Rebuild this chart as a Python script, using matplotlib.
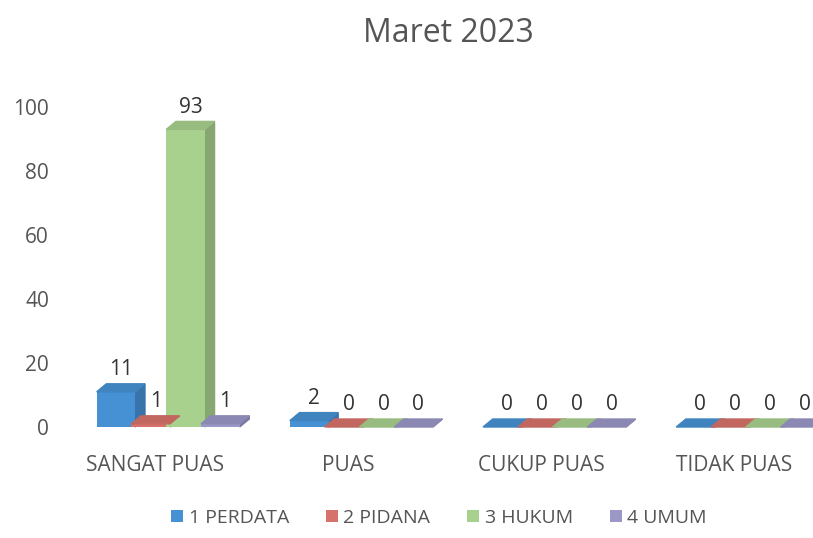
import matplotlib.pyplot as plt
from matplotlib.patches import Polygon, Patch
import matplotlib.colors as mcolors

categories = ['SANGAT PUAS', 'PUAS', 'CUKUP PUAS', 'TIDAK PUAS']
series_names = ['1 PERDATA', '2 PIDANA', '3 HUKUM', '4 UMUM']
perdata = [11, 2, 0, 0]
pidana = [1, 0, 0, 0]
hukum = [93, 0, 0, 0]
umum = [1, 0, 0, 0]
yticks = [0, 20, 40, 60, 80, 100]

series = [perdata, pidana, hukum, umum]
colors = ['#4691d4', '#d6726b', '#a9d18e', '#9b98c8']
offsets = [-0.2, -0.02, 0.16, 0.34]
width = 0.2
dx, dy = 0.05, 2.5

plt.rcParams['font.family'] = ['Open Sans', 'DejaVu Sans']

fig = plt.figure(figsize=(8.13, 5.38), dpi=100)
ax = fig.add_axes([0.0738, 0.2063, 0.910, 0.5948])


def shade(c, f):
    r, g, b = mcolors.to_rgb(c)
    return (r * f, g * f, b * f)


for vals, col, off in zip(series, colors, offsets):
    xs = [i + off for i in range(len(categories))]
    ax.bar(xs, vals, width=width, color=col, edgecolor='none', zorder=3)
    for x, v in zip(xs, vals):
        x0 = x - width / 2
        top = [(x0, v), (x0 + dx, v + dy), (x0 + width + dx, v + dy), (x0 + width, v)]
        side = [(x0 + width, 0), (x0 + width + dx, dy), (x0 + width + dx, v + dy), (x0 + width, v)]
        ax.add_patch(Polygon(side, closed=True, color=shade(col, 0.8), zorder=2, clip_on=False))
        ax.add_patch(Polygon(top, closed=True, color=shade(col, 0.9), zorder=4, clip_on=False))
        ax.text(x + dx / 2, v + dy + 1.2, str(v), ha='center', va='bottom',
                fontsize=15, color='#333333', zorder=5)

ax.set_xlim(-0.49, 3.34)
ax.set_ylim(0, 100)
ax.set_yticks(yticks)
ax.set_xticks(range(len(categories)))
ax.set_xticklabels(categories)
ax.tick_params(axis='both', length=0, labelsize=15, labelcolor='#555555')
ax.tick_params(axis='x', pad=20)
ax.tick_params(axis='y', pad=8)
for s in ax.spines.values():
    s.set_visible(False)

fig.suptitle('Maret 2023', x=0.551, y=0.968, fontsize=23, color='#555555')

handles = [Patch(facecolor=c, edgecolor='none') for c in colors]
fig.legend(handles, series_names, loc='lower center', bbox_to_anchor=(0.54, -0.012),
           ncol=4, frameon=False, fontsize=14, labelcolor='#555555',
           handlelength=0.6, handleheight=0.6, handletextpad=0.3, columnspacing=1.9)

fig.savefig('out.png', dpi=100)
